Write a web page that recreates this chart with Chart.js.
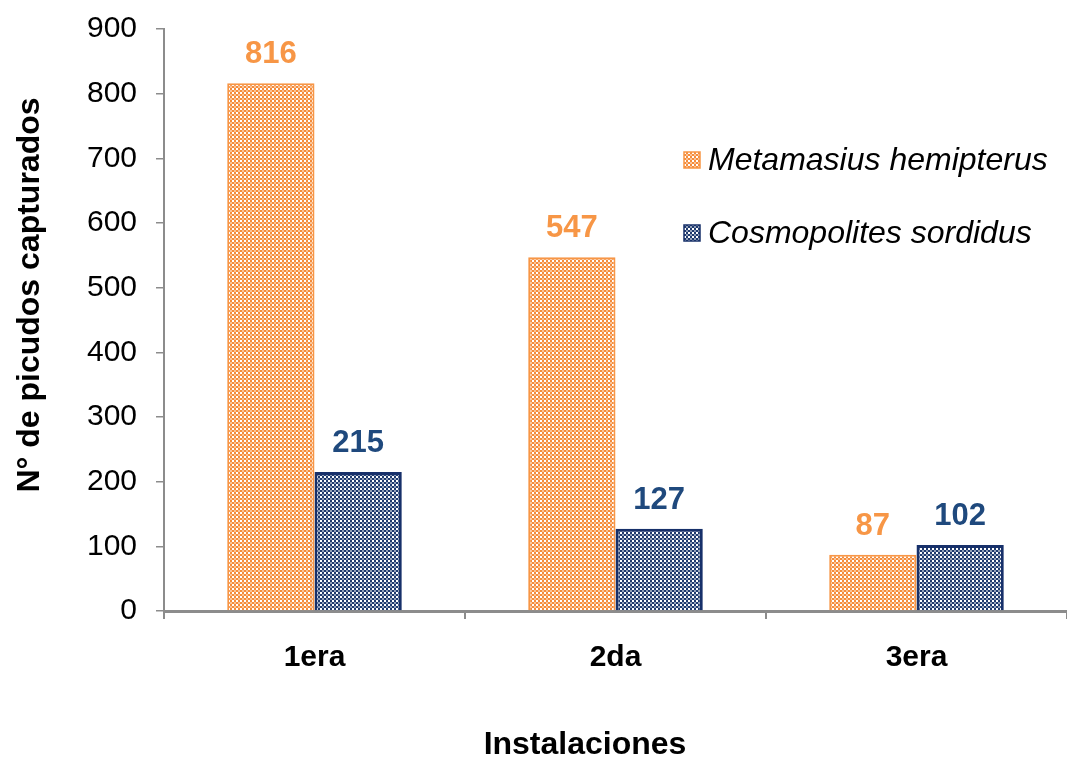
<!DOCTYPE html>
<html>
<head>
<meta charset="utf-8">
<script src="https://cdn.jsdelivr.net/npm/chart.js@4"></script>
<style>
html,body{margin:0;padding:0;background:#fff;}
#wrap{width:1067px;height:758px;position:relative;}
</style>
</head>
<body>
<div id="wrap"><canvas id="c" width="1067" height="758"></canvas></div>
<script>
const categories = ['1era', '2da', '3era'];
const seriesNames = ['Metamasius hemipterus', 'Cosmopolites sordidus'];
const metamasius = [816, 547, 87];
const cosmopolites = [215, 127, 102];
const yTicks = [0, 100, 200, 300, 400, 500, 600, 700, 800, 900];
const xTitle = 'Instalaciones';
const yTitle = 'N° de picudos capturados';

const ORANGE = '#F79646';
const NAVY = '#17306A';
const LABEL_BLUE = '#1F497D';

function makePattern(base, white, light) {
  const t = document.createElement('canvas');
  t.width = 4; t.height = 4;
  const g = t.getContext('2d');
  g.fillStyle = base; g.fillRect(0, 0, 4, 4);
  g.fillStyle = white; g.fillRect(0, 0, 2, 2);
  g.fillStyle = light; g.fillRect(2, 2, 2, 2);
  return document.getElementById('c').getContext('2d').createPattern(t, 'repeat');
}
const orangePat = makePattern('#F58C3C', '#FFFFFF', '#FAC497');
const bluePat = makePattern('#1F3A6E', '#FFFFFF', '#93A1BA');

const FONT = "'Liberation Sans', Arial, sans-serif";

const valueLabels = {
  id: 'valueLabels',
  afterDatasetsDraw(chart) {
    const ctx = chart.ctx;
    ctx.save();
    ctx.font = 'bold 31px ' + FONT;
    ctx.textAlign = 'center';
    ctx.textBaseline = 'alphabetic';
    chart.data.datasets.forEach((ds, i) => {
      const meta = chart.getDatasetMeta(i);
      ctx.fillStyle = i === 0 ? ORANGE : LABEL_BLUE;
      meta.data.forEach((bar, j) => {
        ctx.fillText(String(ds.data[j]), bar.x, bar.y - 20);
      });
    });
    ctx.restore();
  }
};

const axisTitles = {
  id: 'axisTitles',
  afterDraw(chart) {
    const ctx = chart.ctx;
    ctx.save();
    ctx.fillStyle = '#000';
    ctx.font = 'bold 32px ' + FONT;
    ctx.textAlign = 'center';
    ctx.textBaseline = 'middle';
    ctx.fillText(xTitle, 585, 745);
    ctx.translate(30, 295);
    ctx.rotate(-Math.PI / 2);
    ctx.fillText(yTitle, 0, 0);
    ctx.restore();
  }
};

const customLegend = {
  id: 'customLegend',
  afterDraw(chart) {
    const ctx = chart.ctx;
    ctx.save();
    const items = [
      {y: 160, fill: orangePat, stroke: ORANGE},
      {y: 233, fill: bluePat, stroke: NAVY}
    ];
    items.forEach((it, i) => {
      ctx.fillStyle = it.fill;
      ctx.fillRect(684, it.y - 8, 16, 16);
      ctx.strokeStyle = it.stroke;
      ctx.lineWidth = 1.5;
      ctx.strokeRect(684, it.y - 8, 16, 16);
      ctx.fillStyle = '#000';
      ctx.font = 'italic 32px ' + FONT;
      ctx.textAlign = 'left';
      ctx.textBaseline = 'middle';
      ctx.fillText(seriesNames[i], 708, it.y + 1);
    });
    ctx.restore();
  }
};

new Chart(document.getElementById('c'), {
  type: 'bar',
  data: {
    labels: categories,
    datasets: [
      {label: seriesNames[0], data: metamasius, backgroundColor: orangePat, borderColor: ORANGE, borderWidth: 2, borderSkipped: 'bottom'},
      {label: seriesNames[1], data: cosmopolites, backgroundColor: bluePat, borderColor: NAVY, borderWidth: 3, borderSkipped: 'bottom'}
    ]
  },
  options: {
    responsive: false,
    animation: false,
    devicePixelRatio: 1,
    layout: {padding: {top: 29, right: 0, bottom: 0, left: 0}},
    categoryPercentage: 0.58,
    barPercentage: 1,
    plugins: {legend: {display: false}, tooltip: {enabled: false}},
    scales: {
      x: {
        afterFit(s) { s.height = 147; s.paddingLeft = 0; s.paddingRight = 0; },
        grid: {drawOnChartArea: false, drawTicks: true, tickLength: 8, color: '#8C8C8C', lineWidth: 2, offset: true},
        border: {color: '#8C8C8C', width: 3},
        ticks: {color: '#000', font: {family: FONT, size: 30, weight: 'bold'}, padding: 21},
        title: {display: false}
      },
      y: {
        min: 0, max: 900,
        afterFit(s) { s.width = 164; s.paddingTop = 0; s.paddingBottom = 0; },
        afterBuildTicks(s) { s.ticks = yTicks.map(v => ({value: v})); },
        grid: {drawOnChartArea: false, drawTicks: true, tickLength: 8, color: '#8C8C8C', lineWidth: 1.5},
        border: {color: '#8C8C8C', width: 2},
        ticks: {color: '#000', font: {family: FONT, size: 30}, padding: 19},
        title: {display: false}
      }
    }
  },
  plugins: [valueLabels, axisTitles, customLegend]
});
</script>
</body>
</html>
